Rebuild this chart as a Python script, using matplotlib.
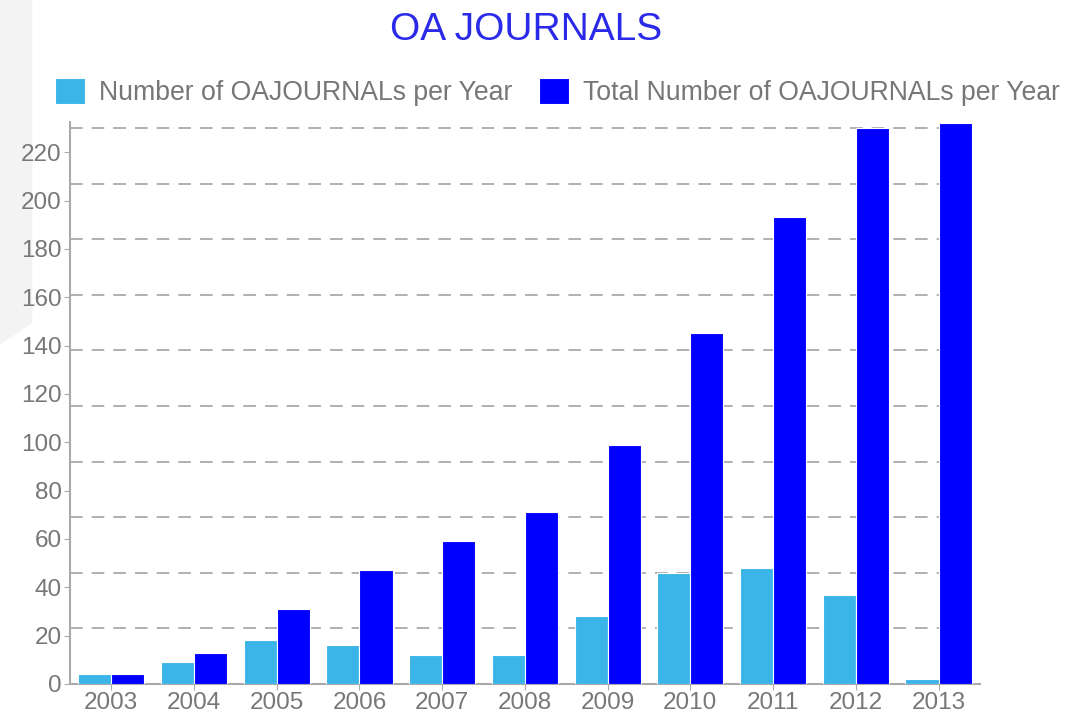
import matplotlib.pyplot as plt
from matplotlib.patches import Polygon
from matplotlib.ticker import MultipleLocator
import numpy as np

years = ['2003', '2004', '2005', '2006', '2007', '2008', '2009', '2010', '2011', '2012', '2013']
per_year = [4, 9, 18, 16, 12, 12, 28, 46, 48, 37, 2]
total = [4, 13, 31, 47, 59, 71, 99, 145, 193, 230, 232]

light = '#3bb4e8'
dark = '#0000ff'
grey = '#777777'

plt.rcParams['font.family'] = ['Liberation Sans', 'DejaVu Sans']

fig = plt.figure(figsize=(10.73, 7.18), dpi=100)
# faint grey shape at the left edge, behind everything
fig.patches.append(Polygon([[0, 1], [0.03, 1], [0.03, 0.55], [0, 0.52]], closed=True,
                           transform=fig.transFigure, facecolor='#f3f3f3', edgecolor='none', zorder=-10))

ax = fig.add_axes([0.0652, 0.0474, 0.848, 0.7827])
ax.patch.set_alpha(0)
x = np.arange(len(years))
w = 0.4
ax.bar(x - w / 2, per_year, w, color=light, edgecolor='white', linewidth=0.8,
       label='Number of OAJOURNALs per Year', zorder=3)
ax.bar(x + w / 2, total, w, color=dark, edgecolor='white', linewidth=0.8,
       label='Total Number of OAJOURNALs per Year', zorder=3)

ax.set_xlim(-0.5, len(years) - 0.5)
ax.set_ylim(0, 232.5)
ax.set_xticks(x)
ax.set_xticklabels(years)
ax.yaxis.set_minor_locator(MultipleLocator(23))
ax.set_yticks(np.arange(0, 221, 20))
ax.grid(which='minor', axis='y', color='#aaaaaa', linestyle=(0, (7, 5)), linewidth=1.3, zorder=1)
ax.tick_params(which='minor', left=False)
ax.tick_params(which='major', colors='#aaaaaa', labelcolor=grey, labelsize=17.5, length=4, pad=2)

for s in ['top', 'right']:
    ax.spines[s].set_visible(False)
ax.spines['left'].set_color('#aaaaaa')
ax.spines['bottom'].set_color('#aaaaaa')
ax.spines['left'].set_linewidth(1.5)
ax.spines['bottom'].set_linewidth(1.5)

fig.text(0.49, 0.958, 'OA JOURNALS', color='#2a2ae8', fontsize=28, ha='center', va='center')
fig.legend(loc='center', bbox_to_anchor=(0.52, 0.872), ncol=2, frameon=False,
           fontsize=19.2, labelcolor=grey, handlelength=1.1, handleheight=1.1,
           handletextpad=0.55, columnspacing=1.0)

fig.savefig('out.png', dpi=100)
